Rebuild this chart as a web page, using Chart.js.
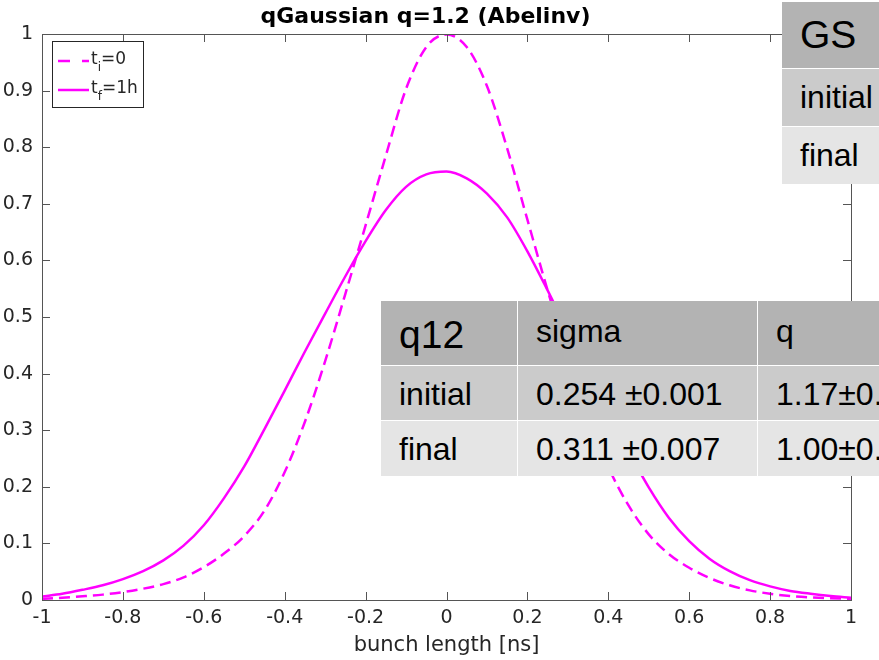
<!DOCTYPE html>
<html>
<head>
<meta charset="utf-8">
<title>qGaussian q=1.2 (Abelinv)</title>
<script src="https://cdn.jsdelivr.net/npm/chart.js@4.4.0/dist/chart.umd.min.js"></script>
<style>
    html, body { margin: 0; padding: 0; background: #fff; overflow: hidden; }
    #wrap { position: relative; width: 879px; height: 660px; overflow: hidden; }
    #bunchChart { position: absolute; left: 0; top: 0; }
    .tbl { position: absolute; background: #fff; font-family: "Liberation Sans", Arial, sans-serif; color: #000; }
    .cell { position: absolute; box-sizing: border-box; line-height: 1; white-space: nowrap; overflow: hidden; padding-left: 18px; }
</style>
</head>
<body>
<div id="wrap">
    <canvas id="bunchChart" width="879" height="660"></canvas>
    <div id="gsTable" class="tbl" style="left:782px; top:2px; width:200px; height:182px;"></div>
    <div id="q12Table" class="tbl" style="left:381px; top:301px; width:600px; height:175px;"></div>
</div>
<script>
// bunch length grid [ns]
const xValues = [-1, -0.95, -0.9, -0.85, -0.8, -0.75, -0.7, -0.65, -0.6, -0.55, -0.5,
    -0.45, -0.4, -0.35, -0.3, -0.25, -0.2, -0.15, -0.1, -0.05, 0,
    0.05, 0.1, 0.15, 0.2, 0.25, 0.3, 0.35, 0.4, 0.45, 0.5,
    0.55, 0.6, 0.65, 0.7, 0.75, 0.8, 0.85, 0.9, 0.95, 1];

// t_i = 0 (dashed)
const yInitial = [0.002, 0.004, 0.0065, 0.0095, 0.014, 0.020, 0.028, 0.040, 0.058, 0.082, 0.113,
    0.158, 0.226, 0.315, 0.422, 0.541, 0.662, 0.785, 0.903, 0.977, 0.999,
    0.977, 0.908, 0.798, 0.672, 0.547, 0.430, 0.325, 0.235, 0.167, 0.116,
    0.081, 0.057, 0.039, 0.026, 0.017, 0.011, 0.007, 0.0045, 0.003, 0.002];

// t_f = 1h (solid)
const yFinal = [0.006, 0.011, 0.018, 0.026, 0.037, 0.051, 0.070, 0.096, 0.132, 0.180, 0.236,
    0.302, 0.370, 0.439, 0.506, 0.572, 0.634, 0.689, 0.730, 0.752, 0.757,
    0.745, 0.718, 0.676, 0.616, 0.547, 0.475, 0.403, 0.332, 0.263, 0.199,
    0.145, 0.104, 0.073, 0.051, 0.035, 0.024, 0.016, 0.011, 0.007, 0.004];

const xTicks = [-1, -0.8, -0.6, -0.4, -0.2, 0, 0.2, 0.4, 0.6, 0.8, 1];
const xTickLabels = ['-1', '-0.8', '-0.6', '-0.4', '-0.2', '0', '0.2', '0.4', '0.6', '0.8', '1'];
const yTicks = [0, 0.1, 0.2, 0.3, 0.4, 0.5, 0.6, 0.7, 0.8, 0.9, 1];
const yTickLabels = ['0', '0.1', '0.2', '0.3', '0.4', '0.5', '0.6', '0.7', '0.8', '0.9', '1'];

const legendBase = ['t', 't'];
const legendSub = ['i', 'f'];
const legendTail = ['=0', '=1h'];

// overlay tables
const gsRows = ['GS', 'initial', 'final'];
const q12Header = ['q12', 'sigma', 'q'];
const q12Initial = ['initial', '0.254 \u00b10.001', '1.17\u00b10.01'];
const q12Final = ['final', '0.311 \u00b10.007', '1.00\u00b10.01'];

const MAGENTA = '#ff00ff';
const AXIS = '#262626';
const ROW_COLORS = ['#b3b3b3', '#cbcbcb', '#e5e5e5'];

document.addEventListener('DOMContentLoaded', () => {
    initChart();
    initTables();
});

function toPoints(ys) {
    return xValues.map((x, i) => ({ x: x, y: ys[i] }));
}

// MATLAB style box with inward ticks + legend
const matlabAxes = {
    id: 'matlabAxes',
    afterDatasetsDraw(chart) {
        const { ctx, chartArea: a, scales: { x, y } } = chart;
        const len = 8;
        ctx.save();
        ctx.strokeStyle = '#555';
        ctx.lineWidth = 1;
        ctx.beginPath();
        xTicks.forEach(v => {
            const px = Math.round(x.getPixelForValue(v)) + 0.5;
            ctx.moveTo(px, a.bottom); ctx.lineTo(px, a.bottom - len);
            ctx.moveTo(px, a.top); ctx.lineTo(px, a.top + len);
        });
        yTicks.forEach(v => {
            const py = Math.round(y.getPixelForValue(v)) + 0.5;
            ctx.moveTo(a.left, py); ctx.lineTo(a.left + len, py);
            ctx.moveTo(a.right, py); ctx.lineTo(a.right - len, py);
        });
        ctx.stroke();
        ctx.strokeRect(Math.round(a.left) + 0.5, Math.round(a.top) + 0.5,
            Math.round(a.right - a.left), Math.round(a.bottom - a.top));
        ctx.restore();
    },
    afterDraw(chart) {
        const ctx = chart.ctx;
        const datasets = chart.data.datasets;
        ctx.save();
        ctx.fillStyle = '#fff';
        ctx.fillRect(52, 41, 91, 66);
        ctx.strokeStyle = AXIS;
        ctx.lineWidth = 1;
        ctx.strokeRect(52.5, 41.5, 91, 66);
        datasets.forEach((ds, i) => {
            const yy = 61 + i * 29;
            ctx.strokeStyle = ds.borderColor;
            ctx.lineWidth = ds.borderWidth;
            ctx.setLineDash(ds.borderDash && ds.borderDash.length ? [12, 12] : []);
            ctx.beginPath();
            ctx.moveTo(58, yy);
            ctx.lineTo(89, yy);
            ctx.stroke();
            ctx.setLineDash([]);
            ctx.fillStyle = AXIS;
            ctx.textBaseline = 'alphabetic';
            ctx.font = '17px "DejaVu Sans"';
            let tx = 91;
            ctx.fillText(legendBase[i], tx, yy + 3);
            tx += ctx.measureText(legendBase[i]).width;
            ctx.font = '12px "DejaVu Sans"';
            ctx.fillText(legendSub[i], tx, yy + 10);
            tx += ctx.measureText(legendSub[i]).width;
            ctx.font = '17px "DejaVu Sans"';
            ctx.fillText(legendTail[i], tx, yy + 3);
        });
        ctx.restore();
    }
};

function initChart() {
    const ctx = document.getElementById('bunchChart');
    if (!ctx) return;

    new Chart(ctx.getContext('2d'), {
        type: 'line',
        data: {
            datasets: [{
                label: 't_i=0',
                data: toPoints(yInitial),
                borderColor: MAGENTA,
                borderWidth: 2.5,
                borderDash: [11, 6],
                pointRadius: 0,
                cubicInterpolationMode: 'monotone',
                fill: false
            }, {
                label: 't_f=1h',
                data: toPoints(yFinal),
                borderColor: MAGENTA,
                borderWidth: 2.5,
                pointRadius: 0,
                cubicInterpolationMode: 'monotone',
                fill: false
            }]
        },
        options: {
            responsive: false,
            animation: false,
            devicePixelRatio: 1,
            layout: { padding: { left: 0, right: 28, top: 0, bottom: 0 } },
            plugins: {
                legend: { display: false },
                tooltip: { enabled: false },
                title: {
                    display: true,
                    text: 'qGaussian q=1.2 (Abelinv)',
                    color: '#000',
                    font: { family: 'DejaVu Sans', size: 22, weight: 'bold', lineHeight: 1.2 },
                    padding: { top: 4, bottom: 3.6 }
                }
            },
            scales: {
                x: {
                    type: 'linear',
                    min: -1,
                    max: 1,
                    grid: { display: false, drawTicks: false },
                    border: { display: false },
                    afterBuildTicks: scale => { scale.ticks = xTicks.map(v => ({ value: v })); },
                    afterFit: scale => { scale.height = 60; },
                    ticks: {
                        color: AXIS,
                        padding: 7,
                        maxRotation: 0,
                        autoSkip: false,
                        font: { family: 'DejaVu Sans', size: 19 },
                        callback: (value, i) => xTickLabels[i]
                    },
                    title: {
                        display: true,
                        text: 'bunch length [ns]',
                        color: AXIS,
                        font: { family: 'DejaVu Sans', size: 21 },
                        padding: { top: 0, bottom: 2 }
                    }
                },
                y: {
                    min: 0,
                    max: 1,
                    grid: { display: false, drawTicks: false },
                    border: { display: false },
                    afterBuildTicks: scale => { scale.ticks = yTicks.map(v => ({ value: v })); },
                    afterFit: scale => { scale.width = 42; },
                    ticks: {
                        color: AXIS,
                        padding: 9,
                        autoSkip: false,
                        font: { family: 'DejaVu Sans', size: 19 },
                        callback: (value, i) => yTickLabels[i]
                    }
                }
            }
        },
        plugins: [matlabAxes]
    });
}

// Build a cell positioned inside a table container
function addCell(parent, text, left, top, width, height, bg, size, padTop) {
    const el = document.createElement('div');
    el.className = 'cell';
    el.style.left = left + 'px';
    el.style.top = top + 'px';
    el.style.width = width + 'px';
    el.style.height = height + 'px';
    el.style.background = bg;
    el.style.fontSize = size + 'px';
    el.style.paddingTop = padTop + 'px';
    el.textContent = text;
    parent.appendChild(el);
}

function initTables() {
    const gs = document.getElementById('gsTable');
    const gsTops = [0, 67, 125];
    const gsHeights = [66, 57, 57];
    gsRows.forEach((txt, r) => {
        addCell(gs, txt, 0, gsTops[r], 200, gsHeights[r], ROW_COLORS[r],
            r === 0 ? 39 : 32, r === 0 ? 13 : 12);
    });

    const q12 = document.getElementById('q12Table');
    const colLefts = [0, 137, 377];
    const colWidths = [136, 239, 223];
    const rowTops = [0, 65, 120];
    const rowHeights = [64, 54, 55];
    const rows = [q12Header, q12Initial, q12Final];
    rows.forEach((row, r) => {
        row.forEach((txt, c) => {
            let size = 32;
            let pad = 12;
            if (r === 0) {
                size = c === 0 ? 39 : 32;
                pad = 14;
            }
            addCell(q12, txt, colLefts[c], rowTops[r], colWidths[c], rowHeights[r],
                ROW_COLORS[r], size, pad);
        });
    });
}
</script>
</body>
</html>
